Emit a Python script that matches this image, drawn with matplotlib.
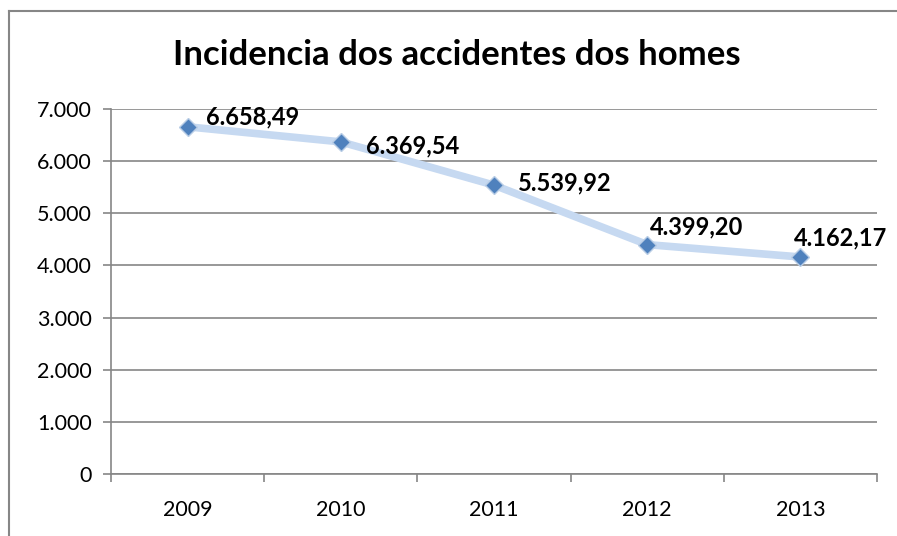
import matplotlib
matplotlib.use('Agg')
import matplotlib.pyplot as plt
from matplotlib.lines import Line2D
from matplotlib.ticker import FuncFormatter

years = ["2009", "2010", "2011", "2012", "2013"]
values = [6658.49, 6369.54, 5539.92, 4399.20, 4162.17]
labels = ["6.658,49", "6.369,54", "5.539,92", "4.399,20", "4.162,17"]

FONT = "Lato"
LINE_COLOR = "#C6D9F1"
MARKER_COLOR = "#4F81BD"
GRID = "#868686"

fig = plt.figure(figsize=(8.97, 5.36), dpi=100)
# outer chart border (only top and left visible in the crop)
bx, by = 8.5 / 897, 1 - 10.5 / 536
fig.lines.append(Line2D([bx, bx], [0, by], transform=fig.transFigure, color=GRID, linewidth=1.5))
fig.lines.append(Line2D([bx, 1], [by, by], transform=fig.transFigure, color=GRID, linewidth=1.5))

ax = fig.add_axes([111 / 897, 1 - 474 / 536, (877 - 111) / 897, (474 - 109) / 536])
x = list(range(len(years)))
ax.plot(x, values, color=LINE_COLOR, linewidth=5.5, solid_capstyle="round", zorder=3)
ax.plot(x, values, linestyle="none", marker="D", markersize=9.5,
        markerfacecolor=MARKER_COLOR, markeredgecolor="#B9CDE5", markeredgewidth=1, zorder=4)

# label offsets in points (dx, dy)
offsets = [(13, 7), (18, -3), (17, 1.5), (2, 13), (-5, 14)]
for xi, v, lab, (dx, dy) in zip(x, values, labels, offsets):
    ax.annotate(lab, (xi, v), xytext=(dx, dy), textcoords="offset points",
                ha="left", va="center", fontsize=17, fontweight="bold",
                fontfamily=FONT, color="black", zorder=5)

ax.set_xlim(-0.5, 4.5)
ax.set_ylim(0, 7000)
ax.set_yticks(range(0, 7001, 1000))
ax.yaxis.set_major_formatter(FuncFormatter(lambda v, p: f"{int(v):,}".replace(",", ".")))
ax.set_xticks(x)
ax.set_xticklabels(years)
ax.set_xticks([i - 0.5 for i in range(len(years) + 1)], minor=True)
ax.tick_params(axis="x", which="major", length=0, pad=19)
ax.tick_params(axis="x", which="minor", length=6, color=GRID, width=1.2)
ax.tick_params(axis="y", length=6, color=GRID, width=1.2, pad=8)
for t in ax.get_xticklabels() + ax.get_yticklabels():
    t.set_fontfamily(FONT)
    t.set_fontsize(15.5)

ax.grid(axis="y", color=GRID, linewidth=1.2)
ax.set_axisbelow(True)
for s in ["top", "right"]:
    ax.spines[s].set_visible(False)
for s in ["left", "bottom"]:
    ax.spines[s].set_color(GRID)
    ax.spines[s].set_linewidth(1.2)

fig.text(457 / 897, 1 - 55 / 536, "Incidencia dos accidentes dos homes", ha="center", va="center",
         fontsize=25, fontweight="bold", fontfamily=FONT)

fig.savefig("out.png", dpi=100, facecolor="white")
